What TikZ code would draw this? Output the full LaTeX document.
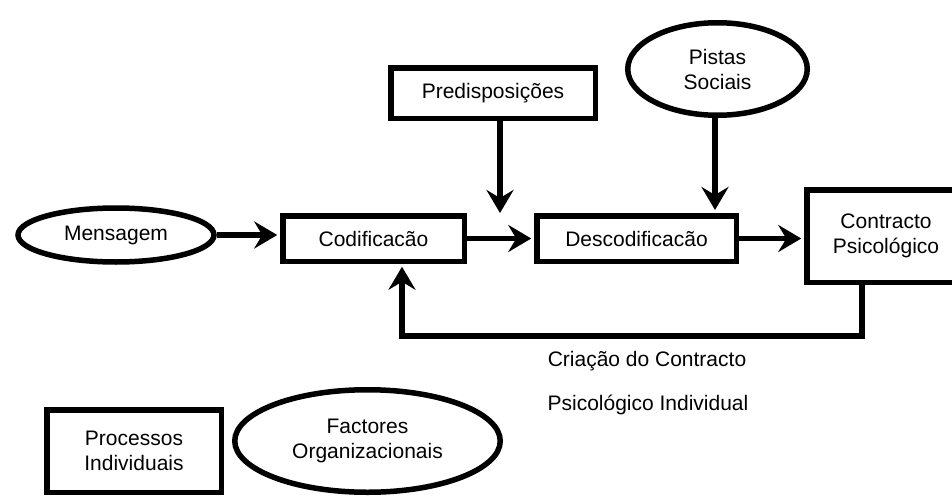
\documentclass[tikz,border=0pt]{standalone}
\usepackage{fontspec}
\setmainfont{Liberation Sans}
\usetikzlibrary{arrows.meta,shapes.geometric}
\begin{document}
\begin{tikzpicture}[x=1pt,y=-1pt,
  lw/.style={line width=5.5pt},
  txt/.style={font=\fontsize{21}{25}\selectfont},
  box/.style={draw,lw,rectangle,inner sep=0pt,align=center,txt},
  oval/.style={draw,lw,ellipse,inner sep=0pt,align=center,txt},
  arr/.style={lw,-{Stealth[length=23pt,width=27pt,inset=8pt]}},
  arrb/.style={arr,shorten >=2.75pt},
  lbl/.style={txt,anchor=base,inner sep=0pt}
]
\useasboundingbox (0,0) rectangle (952,495);
% nodes
\node[oval,minimum width=196pt,minimum height=54pt] (men) at (116,235) {Mensagem};
\node[box,minimum width=181.5pt,minimum height=45.5pt] (cod) at (373.5,238.5) {Codificacão};
\node[box,minimum width=199.5pt,minimum height=45.5pt] (desc) at (636.5,238.5) {Descodificacão};
\node[box,minimum width=158.5pt,minimum height=92.5pt] (con) at (886,236) {Contracto\\Psicológico};
\node[box,minimum width=204.5pt,minimum height=50.5pt] (pred) at (493,93) {Predisposições};
\node[oval,minimum width=179.5pt,minimum height=92.5pt] (pis) at (717.5,69) {Pistas\\Sociais};
\node[box,minimum width=174.5pt,minimum height=82.5pt] (proc) at (134,451) {Processos\\Individuais};
\node[oval,minimum width=265.5pt,minimum height=102.5pt] (fac) at (367.5,441) {Factores\\Organizacionais};
% labels
\node[lbl] (l1) at (647,366) {Criação do Contracto};
\node[lbl] (l2) at (648,410) {Psicológico Individual};
% coordinates
\coordinate (predT) at (500,213);
\coordinate (pisT) at (715,210);
\coordinate (fbR) at (862,336);
\coordinate (fbL) at (402,336);
% connectors
\draw[arrb] (men.east) -- (men.east -| cod.west);
\draw[arrb] (cod.east) -- (cod.east -| desc.west);
\draw[arrb] (desc.east) -- (desc.east -| con.west);
\draw[arr] (predT |- pred.south) -- (predT);
\draw[arr] (pisT |- pis.south) -- (pisT);
\draw[arrb] (fbR |- con.south) -- (fbR) -- (fbL) -- (fbL |- cod.south);
\end{tikzpicture}
\end{document}
